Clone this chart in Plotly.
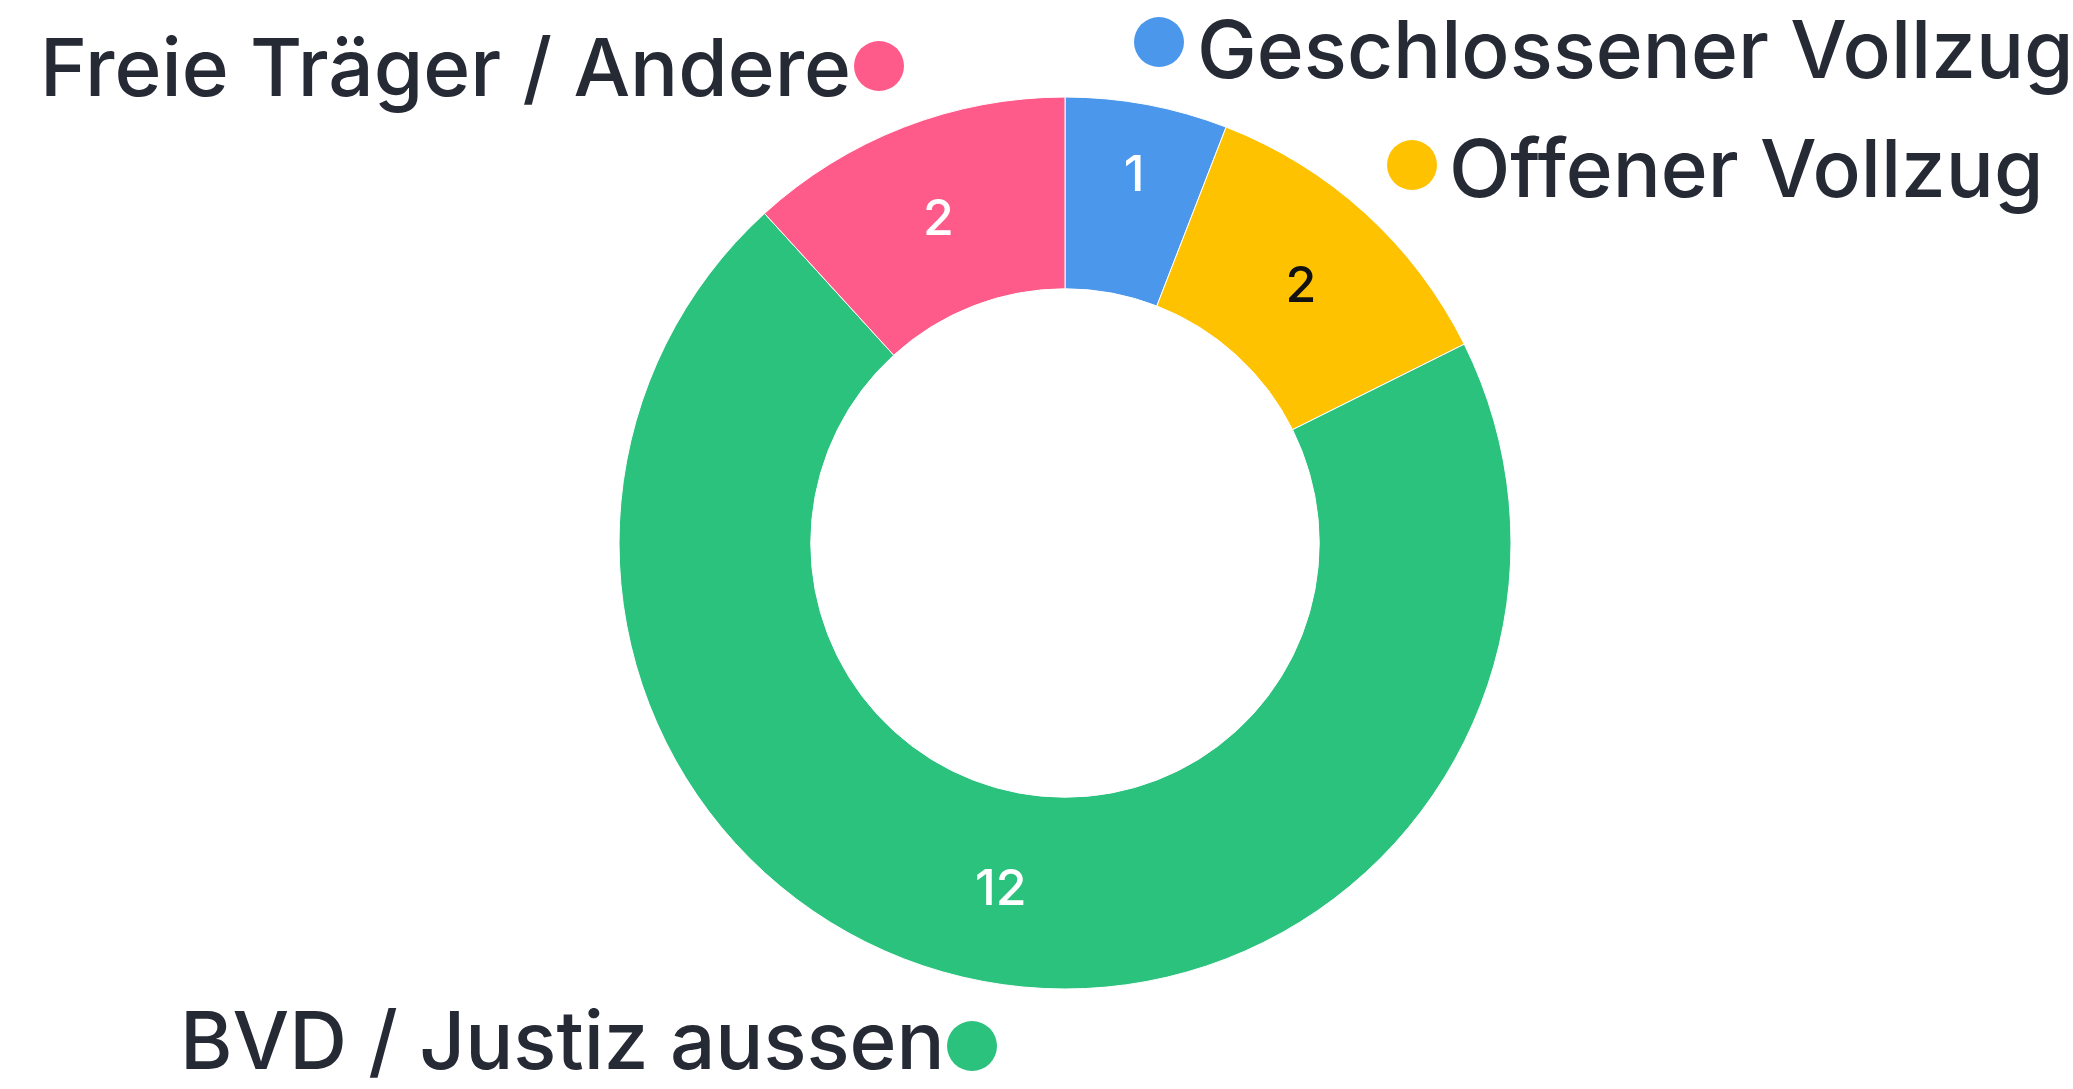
import plotly.graph_objects as go

categories = ["Geschlossener Vollzug", "Offener Vollzug", "BVD / Justiz aussen", "Freie Träger / Andere"]
values = [1, 2, 12, 2]
colors = ["#4A97EB", "#FEC200", "#2BC27E", "#FF5B8A"]
value_text_colors = ["#FFFFFF", "#111111", "#FFFFFF", "#FFFFFF"]

W, H = 2073, 1089
cx, cy, R = 1065, 543, 446

fig = go.Figure()
fig.add_trace(go.Pie(
    labels=categories, values=values, sort=False, direction="clockwise", rotation=0,
    hole=0.57, textinfo="value", textposition="inside", insidetextorientation="horizontal",
    textfont=dict(family="Inter, Lato, sans-serif", size=50, weight=500, color=value_text_colors),
    marker=dict(colors=colors, line=dict(color="#FFFFFF", width=1)),
    domain=dict(x=[(cx - R) / W, (cx + R) / W], y=[(H - cy - R) / H, (H - cy + R) / H]),
    showlegend=False, hoverinfo="label+value",
))

# outside labels with dots: (text x, text y, anchor, dot x, dot y)
label_pos = {
    "Geschlossener Vollzug": (1195, 48, "left", 1159, 42),
    "Offener Vollzug": (1447, 167, "left", 1412, 165),
    "BVD / Justiz aussen": (947, 1039, "right", 972, 1046),
    "Freie Träger / Andere": (853, 66, "right", 879, 66),
}
font_color = "#252A35"
r_dot = 25
for cat, col in zip(categories, colors):
    tx, ty, anc, dx, dy = label_pos[cat]
    fig.add_annotation(x=tx, y=ty, xref="x", yref="y", text=cat, showarrow=False,
                       xanchor=anc, yanchor="middle",
                       font=dict(family="Inter, Lato, sans-serif", size=80, weight=500, color=font_color))
    fig.add_shape(type="circle", xref="x", yref="y", x0=dx - r_dot, x1=dx + r_dot,
                  y0=dy - r_dot, y1=dy + r_dot, fillcolor=col, line=dict(width=0))

fig.update_layout(
    width=W, height=H, margin=dict(l=0, r=0, t=0, b=0),
    paper_bgcolor="#FFFFFF", plot_bgcolor="rgba(0,0,0,0)",
    xaxis=dict(range=[0, W], visible=False, domain=[0, 1], fixedrange=True),
    yaxis=dict(range=[H, 0], visible=False, domain=[0, 1], fixedrange=True),
)
fig.write_html("out.html")
